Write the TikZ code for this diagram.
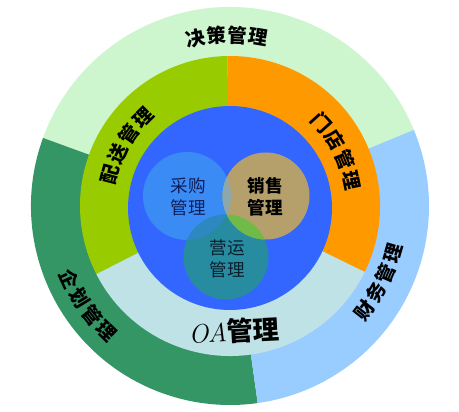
\documentclass[tikz,border=0pt]{standalone}
\usepackage{fontspec}
\newfontfamily\cjk{Noto Sans CJK SC}
\usetikzlibrary{calc}

\definecolor{juece}{RGB}{206,246,206}
\definecolor{qihua}{RGB}{52,150,100}
\definecolor{caiwu}{RGB}{153,204,255}
\definecolor{peisong}{RGB}{153,204,0}
\definecolor{mendian}{RGB}{255,153,0}
\definecolor{oaring}{RGB}{190,226,230}
\definecolor{core}{RGB}{51,102,255}
\definecolor{caigou}{RGB}{58,140,244}
\definecolor{xiaoshou}{RGB}{181,160,108}
\definecolor{yingyun}{RGB}{40,140,160}
\definecolor{lensa}{RGB}{140,168,172}
\definecolor{lensb}{RGB}{112,186,72}
\definecolor{lensc}{RGB}{44,136,190}

\tikzset{
  ringtxt/.style={font=\cjk\bfseries\fontsize{11}{12}\selectfont, inner sep=0pt},
  cortxt/.style={font=\cjk\fontsize{10}{12.2}\selectfont, align=center, inner sep=0pt}
}

\def\sector[#1](#2)(#3:#4:#5){\fill[#1] (#2) -- ($(#2)+(#3:#5)$) arc (#3:#4:#5) -- cycle;}
\def\arclabel#1(#2:#3:#4:#5)#6{\foreach \ch [count=\i] in {#6} {\node[ringtxt, rotate={#2+(\i-2.5)*(#4)+(#5)}] (#1-\i) at ($(c)+({#2+(\i-2.5)*(#4)}:#3)$) {\ch};}}

\begin{document}
\begin{tikzpicture}
			%%%%% START %%%%%
			\useasboundingbox[fill=white] (0, 0) rectangle (9.18, 8.24);
			\coordinate (c) at (4.60, 4.12);
			
			% outer ring
			\sector[juece](c)(22.5:160:3.98)
			\sector[qihua](c)(160:278:3.98)
			\sector[caiwu](c)(-82:22.5:3.98)
			
			% middle ring
			\sector[peisong](c)(91:207:3.0)
			\sector[oaring](c)(207:334:3.0)
			\sector[mendian](c)(-26:91:3.0)
			
			% core
			\fill[core] (4.60, 4.08) circle (2.04);
			
			\coordinate (cg) at (3.74, 4.32);
			\coordinate (xs) at (5.32, 4.32);
			\coordinate (yy) at (4.52, 3.10);
			\fill[caigou] (cg) circle (0.88);
			\fill[yingyun] (yy) circle (0.85);
			\fill[xiaoshou] (xs) circle (0.87);
			\begin{scope}
				\clip (cg) circle (0.88);
				\fill[lensa] (xs) circle (0.87);
				\fill[lensc] (yy) circle (0.85);
			\end{scope}
			\begin{scope}
				\clip (xs) circle (0.87);
				\fill[lensb] (yy) circle (0.85);
			\end{scope}
			
			% labels
			\node[cortxt, text={rgb,255:red,15;green,30;blue,90}] (caigou) at (3.76, 4.30) {采购\\管理};
			\node[cortxt, font=\cjk\bfseries\fontsize{10}{12.2}\selectfont] (xiaoshou) at (5.30, 4.30) {销售\\管理};
			\node[cortxt, text={rgb,255:red,10;green,30;blue,45}] (yingyun) at (4.54, 3.06) {营运\\管理};
			
			\arclabel{juece}(91:3.42:-7:-90){决,策,管,理}
			\arclabel{peisong}(150:2.48:-10.2:-90){配,送,管,理}
			\arclabel{mendian}(27:2.48:-10.2:-90){门,店,管,理}
			\arclabel{qihua}(215:3.52:7:90){企,划,管,理}
			\arclabel{caiwu}(-27:3.40:7.2:90){财,务,管,理}
			
			\node[inner sep=0pt, rotate=3] (oa) at (4.68, 1.62) {\fontsize{15}{16}\selectfont\itshape OA\cjk\upshape\bfseries 管理};
			%%%%% END %%%%%
\end{tikzpicture}
\end{document}
